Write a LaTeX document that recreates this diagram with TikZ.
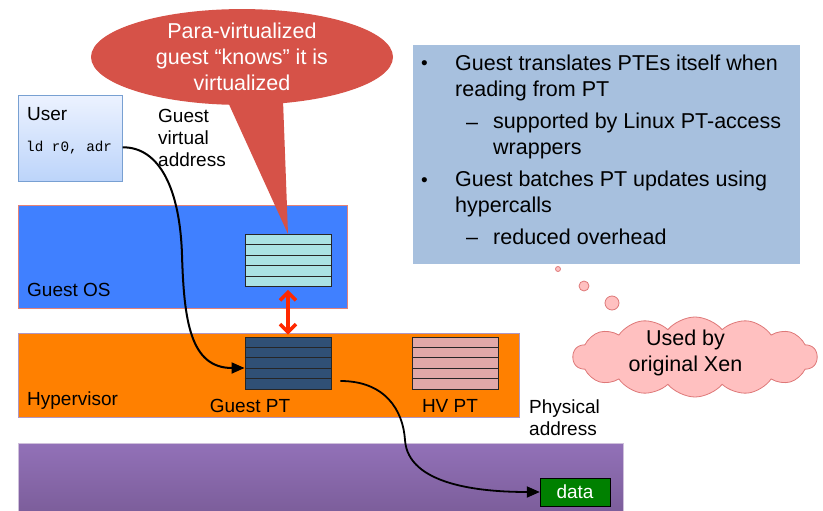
\documentclass[tikz,border=0pt]{standalone}
\usepackage{fontspec}
\setmainfont{Liberation Sans}
\setmonofont{Liberation Mono}
\usetikzlibrary{calc,shapes.geometric,shapes.symbols,arrows.meta}
\definecolor{userhi}{RGB}{236,242,255}
\definecolor{userlo}{RGB}{188,212,250}
\definecolor{userline}{RGB}{120,160,210}
\definecolor{guestblue}{RGB}{64,128,255}
\definecolor{guestline}{RGB}{228,130,120}
\definecolor{hvorange}{RGB}{255,128,0}
\definecolor{hvline}{RGB}{175,150,195}
\definecolor{memhi}{RGB}{146,113,184}
\definecolor{memlo}{RGB}{122,92,152}
\definecolor{ptlight}{RGB}{170,226,228}
\definecolor{ptdark}{RGB}{48,80,117}
\definecolor{pthv}{RGB}{224,168,168}
\definecolor{infoblue}{RGB}{167,192,222}
\definecolor{callred}{RGB}{214,82,72}
\definecolor{cloudpink}{RGB}{255,192,192}
\definecolor{cloudline}{RGB}{222,120,120}
\definecolor{datagreen}{RGB}{0,128,0}
\definecolor{arrred}{RGB}{255,40,0}

\begin{document}
\begin{tikzpicture}[x=1pt,y=-1pt,
  lbl/.style={anchor=base west,inner sep=0,font=\fontsize{19}{22}\selectfont,align=left},
  big/.style={font=\fontsize{21.5}{26}\selectfont},
  infotxt/.style={anchor=base west,inner sep=0,big,align=left},
  layer/.style={anchor=north west,inner sep=0,line width=0.6pt},
  ptab/.style={draw=black!85,line width=0.9pt,minimum width=86,minimum height=52,inner sep=0},
  flow/.style={line width=2pt,-{Triangle[length=13pt,width=11pt]}},
  bubble/.style={circle,draw=cloudline,fill=cloudpink,line width=0.8pt,inner sep=0}]
\useasboundingbox (0,0) rectangle (823,511);
% layers
\node[layer,draw=userline,top color=userhi,bottom color=userlo,minimum width=104,minimum height=86] (user) at (18,95) {};
\node[layer,draw=guestline,fill=guestblue,minimum width=329,minimum height=103] (guestos) at (18,205) {};
\node[layer,draw=hvline,fill=hvorange,minimum width=501,minimum height=84] (hv) at (18,333) {};
\node[layer,draw=hvline!60,top color=memhi,bottom color=memlo,minimum width=605,minimum height=75] (mem) at (18,443) {};
\node[layer,fill=infoblue,minimum width=387,minimum height=219] (info) at (413,45) {};
% page tables
\node[ptab,fill=ptlight] (gospt) at (288,260.5) {};
\node[ptab,fill=ptdark] (gpt) at (288,363) {};
\node[ptab,fill=pthv] (hvpt) at (455,363) {};
\foreach \t in {gospt,gpt,hvpt}
  \foreach \k in {1,...,4}
    \draw[black!85,line width=0.9pt] ($(\t.north west)!\k/5!(\t.south west)$) -- ($(\t.north east)!\k/5!(\t.south east)$);
\draw[arrred,line width=3.5pt,shorten <=3pt,shorten >=2pt,
  {Straight Barb[length=8pt,width=16pt]}-{Straight Barb[length=8pt,width=16pt]}] (gospt.south) -- (gpt.north);
% labels (multi-line nodes sit on their last baseline)
\node[lbl] (userlbl) at (27,121) {User};
\node[lbl,font=\ttfamily\fontsize{14.3}{16}\selectfont] (code) at (26,152) {ld r0, adr};
\node[lbl] (gva) at (158,166) {Guest\\virtual\\address};
\node[lbl] (goslbl) at (27,296) {Guest OS};
\node[lbl] (hvlbl) at (27,405) {Hypervisor};
\node[lbl,anchor=base] (gptlbl) at (250,412) {Guest PT};
\node[lbl,anchor=base] (hvptlbl) at (450,412) {HV PT};
\node[lbl] (phys) at (529,435) {Physical\\address};
\node[draw=black,fill=datagreen,text=white,minimum width=70,minimum height=28,inner sep=0,
  font=\fontsize{19}{21}\selectfont] (data) at (575,492) {data};
% translation path
\draw[flow] ([yshift=-9pt]user.east) .. controls (160,147) and (180,190) .. (182,255)
  .. controls (184,320) and (190,368) .. ([yshift=-5pt]gpt.west);
\draw[flow,line width=1.8pt] ([xshift=9pt,yshift=-18pt]gpt.east) .. controls (385,381) and (403,410) .. (405,440)
  .. controls (408,485) and (480,492) .. (data.west);
% callout
\fill[callred] (227,100) -- (gospt.north) -- (283,100) -- cycle;
\node[ellipse,fill=callred,minimum width=302,minimum height=94,inner sep=0,text=white,big,align=center]
  (para) at (242,57) {Para-virtualized\\guest “knows” it is\\virtualized};
% notes
\foreach \n/\y in {1/70,3/186}
  \node[infotxt,font=\fontsize{19}{22}\selectfont] (b\n) at (421,\y) {•};
\foreach \n/\y in {2/129,4/244}
  \node[infotxt] (d\n) at (466,\y) {–};
\node[infotxt] (i1) at (455,96) {Guest translates PTEs itself when\\reading from PT};
\node[infotxt] (i2) at (493,154) {supported by Linux PT-access\\wrappers};
\node[infotxt] (i3) at (455,212) {Guest batches PT updates using\\hypercalls};
\node[infotxt] (i4) at (493,244) {reduced overhead};
% thought cloud
\node[bubble,minimum size=5] (th1) at (558,269) {};
\node[bubble,minimum size=10] (th2) at (584,286) {};
\node[bubble,minimum size=14] (th3) at (612,303) {};
\node[cloud,cloud puffs=14,cloud puff arc=100,aspect=3,draw=cloudline,fill=cloudpink,line width=0.8pt,
  minimum width=244,minimum height=80,inner sep=0] (xen) at (695,357) {};
\node[big,align=center] (xentxt) at (685.5,353) {Used by\\original Xen};
\end{tikzpicture}
\end{document}
